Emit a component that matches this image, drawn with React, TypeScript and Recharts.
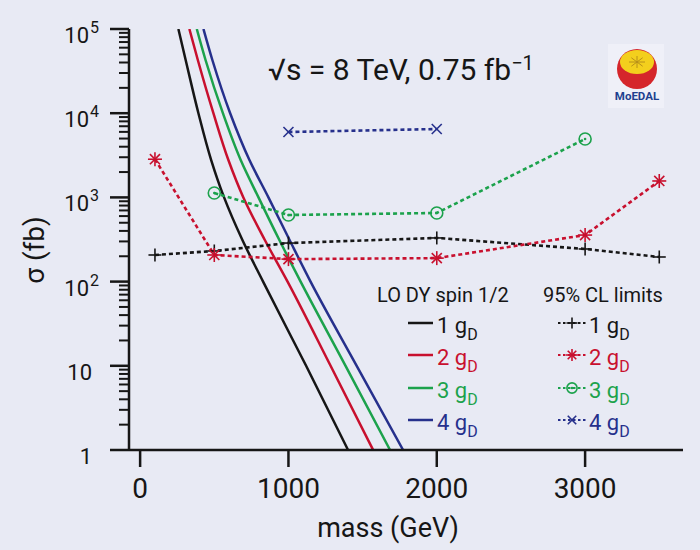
import React from "react";
import { LineChart, Line, XAxis, YAxis } from "recharts";

const INK = "#161616";
const BG = "#e8eaf4";
const RED = "#c8102e";
const GREEN = "#1ca24c";
const BLUE = "#26308c";
const FONT = "Roboto, 'Liberation Sans', sans-serif";

const couplings = ["1", "2", "3", "4"];
const seriesColors = [INK, RED, GREEN, BLUE];

// LO DY spin 1/2: sigma levels (fb) and the mass (GeV) where each curve crosses them
const dySigma = [100000, 42850, 10000, 2780, 1000, 316, 100, 10, 1];
const dyMass1 = [258, 307, 393, 479, 566, 688, 829, 1119, 1402];
const dyMass2 = [332, 389, 494, 595, 696, 839, 994, 1284, 1571];
const dyMass3 = [382, 441, 558, 678, 798, 937, 1082, 1385, 1685];
const dyMass4 = [427, 487, 607, 737, 865, 1006, 1149, 1460, 1773];

// 95% CL limits
const limMass1 = [100, 500, 1000, 2000, 3000, 3500];
const limSigma1 = [207, 231, 287, 330, 244, 196];
const limMass2 = [100, 500, 1000, 2000, 3000, 3500];
const limSigma2 = [2840, 207, 185, 190, 357, 1567];
const limMass3 = [500, 1000, 2000, 3000];
const limSigma3 = [1128, 618, 653, 4940];
const limMass4 = [1000, 2000];
const limSigma4 = [5980, 6490];

const massTicks = [0, 1000, 2000, 3000];
const sigmaMajorTicks = [1, 10, 100, 1000, 10000, 100000];
const sigmaTickBase = ["1", "10", "10", "10", "10", "10"];
const sigmaTickExp = ["", "", "2", "3", "4", "5"];

const X_DOMAIN = [-75, 3660];
const Y_DOMAIN = [1, 100000];

// log axis with 2..9 minor ticks per decade
const sigmaTicks: number[] = [];
for (let k = 0; k < 5; k++) for (let m = 1; m < 10; m++) sigmaTicks.push(m * 10 ** k);
sigmaTicks.push(100000);

const zip = (xs: number[], ys: number[]) => xs.map((m, i) => ({ mass: m, sigma: ys[i] }));
const dyCurves = [dyMass1, dyMass2, dyMass3, dyMass4].map((ms) => zip(ms, dySigma));
const limitCurves = [
  zip(limMass1, limSigma1),
  zip(limMass2, limSigma2),
  zip(limMass3, limSigma3),
  zip(limMass4, limSigma4),
];

function Marker({ kind, cx, cy, color, s = 1 }: any) {
  const w = 1.6;
  if (kind === 0) {
    const r = 6.5 * s;
    return (
      <g stroke={color} strokeWidth={w}>
        <line x1={cx - r} x2={cx + r} y1={cy} y2={cy} />
        <line x1={cx} x2={cx} y1={cy - r} y2={cy + r} />
      </g>
    );
  }
  if (kind === 1) {
    const r = 7 * s;
    const d = r * 0.72;
    return (
      <g stroke={color} strokeWidth={w}>
        <line x1={cx - r} x2={cx + r} y1={cy} y2={cy} />
        <line x1={cx} x2={cx} y1={cy - r} y2={cy + r} />
        <line x1={cx - d} x2={cx + d} y1={cy - d} y2={cy + d} />
        <line x1={cx - d} x2={cx + d} y1={cy + d} y2={cy - d} />
      </g>
    );
  }
  if (kind === 2) {
    return (
      <g>
        <circle cx={cx} cy={cy} r={6 * s} fill="none" stroke={color} strokeWidth={w} />
        <circle cx={cx} cy={cy} r={1.3} fill={color} />
      </g>
    );
  }
  const r = 5 * s;
  return (
    <g stroke={color} strokeWidth={w}>
      <line x1={cx - r} x2={cx + r} y1={cy - r} y2={cy + r} />
      <line x1={cx - r} x2={cx + r} y1={cy + r} y2={cy - r} />
    </g>
  );
}

function SigmaTick({ x, y, payload }: any) {
  const i = sigmaMajorTicks.indexOf(payload.value);
  if (i < 0) {
    return <line x1={x} x2={x - 10} y1={y} y2={y} stroke={INK} strokeWidth={2} />;
  }
  const exp = sigmaTickExp[i];
  return (
    <g>
      <line x1={x} x2={x - 19} y1={y} y2={y} stroke={INK} strokeWidth={2.5} />
      {exp ? (
        <>
          <text x={x - 40} y={y + 14} textAnchor="end" fontSize={22} fill={INK} fontFamily={FONT}>
            {sigmaTickBase[i]}
          </text>
          <text x={x - 39} y={y + 4} fontSize={16} fill={INK} fontFamily={FONT}>
            {exp}
          </text>
        </>
      ) : (
        <text x={x - 37} y={y + 14} textAnchor="end" fontSize={22} fill={INK} fontFamily={FONT}>
          {sigmaTickBase[i]}
        </text>
      )}
    </g>
  );
}

function MassTick({ x, y, payload }: any) {
  return (
    <g>
      <line x1={x} x2={x} y1={y} y2={y + 17} stroke={INK} strokeWidth={2.5} />
      <text x={x} y={y + 48} textAnchor="middle" fontSize={28} fill={INK} fontFamily={FONT}>
        {payload.value}
      </text>
    </g>
  );
}

function Overlay() {
  const rowY = [333, 365, 398, 430];
  return (
    <svg
      width={700}
      height={550}
      style={{ position: "absolute", left: 0, top: 0, pointerEvents: "none" }}
      fontFamily={FONT}
    >
      <text x={268} y={80} fontSize={30} fill={INK}>
        √s = 8 TeV, 0.75 fb
        <tspan dy={-10} fontSize={20}>−1</tspan>
      </text>

      <g>
        <rect x={608} y={44} width={56} height={64} fill="#eff0f8" />
        <circle cx={637} cy={69} r={20} fill="#d5262b" />
        <ellipse cx={637} cy={62} rx={17} ry={12} fill="#f3cf1d" />
        {[0, 45, 90, 135].map((a) => {
          const rad = (a * Math.PI) / 180;
          return (
            <line
              key={a}
              x1={637 - 8 * Math.cos(rad)}
              x2={637 + 8 * Math.cos(rad)}
              y1={62 - 6 * Math.sin(rad)}
              y2={62 + 6 * Math.sin(rad)}
              stroke="#b8901a"
              strokeWidth={1}
            />
          );
        })}
        <text x={637} y={100} textAnchor="middle" fontSize={11.5} fontWeight={700} fill="#20408f">
          MoEDAL
        </text>
      </g>

      <text x={377} y={302} fontSize={20} fill={INK}>LO DY spin 1/2</text>
      <text x={543} y={302} fontSize={20} fill={INK}>95% CL limits</text>
      {couplings.map((c, i) => (
        <g key={c} fill={seriesColors[i]}>
          <line x1={408} x2={433} y1={rowY[i] - 10} y2={rowY[i] - 10} stroke={seriesColors[i]} strokeWidth={2.5} />
          <text x={437} y={rowY[i]} fontSize={22}>
            {c} g<tspan dy={7} fontSize={16}>D</tspan>
          </text>
          <line
            x1={558}
            x2={586}
            y1={rowY[i] - 10}
            y2={rowY[i] - 10}
            stroke={seriesColors[i]}
            strokeWidth={2.2}
            strokeDasharray="2.5 2.5"
          />
          <Marker kind={i} cx={572} cy={rowY[i] - 10} color={seriesColors[i]} s={0.85} />
          <text x={589} y={rowY[i]} fontSize={22}>
            {c} g<tspan dy={7} fontSize={16}>D</tspan>
          </text>
        </g>
      ))}

      <text x={388} y={537} textAnchor="middle" fontSize={27} fill={INK}>mass (GeV)</text>
      <text
        x={0}
        y={0}
        transform="translate(44 250) rotate(-90)"
        textAnchor="middle"
        fontSize={28}
        fill={INK}
      >
        σ (fb)
      </text>
    </svg>
  );
}

export default function App() {
  const axisLine = { stroke: INK, strokeWidth: 2.5 };
  return (
    <div style={{ position: "absolute", left: 0, top: 0, width: 700, height: 550, background: BG }}>
      <LineChart width={700} height={550} margin={{ top: 29, right: 17, bottom: 40, left: 29 }}>
        <XAxis
          dataKey="mass"
          type="number"
          domain={X_DOMAIN}
          ticks={massTicks}
          interval={0}
          tick={<MassTick />}
          tickLine={false}
          tickSize={0}
          tickMargin={0}
          axisLine={axisLine}
          height={60}
          allowDataOverflow
        />
        <XAxis
          xAxisId="top"
          orientation="top"
          type="number"
          domain={X_DOMAIN}
          height={0}
          tick={false}
          tickLine={false}
          axisLine={axisLine}
        />
        <YAxis
          dataKey="sigma"
          type="number"
          scale="log"
          domain={Y_DOMAIN}
          ticks={sigmaTicks}
          interval={0}
          tick={<SigmaTick />}
          tickLine={false}
          tickSize={0}
          tickMargin={0}
          axisLine={axisLine}
          width={100}
          allowDataOverflow
        />
        <YAxis
          yAxisId="right"
          orientation="right"
          type="number"
          domain={Y_DOMAIN}
          width={0}
          tick={false}
          tickLine={false}
          axisLine={axisLine}
        />
        {dyCurves.map((d, i) => (
          <Line
            key={`dy${i}`}
            data={d}
            dataKey="sigma"
            type="monotoneY"
            stroke={seriesColors[i]}
            strokeWidth={2.5}
            dot={false}
            activeDot={false}
            isAnimationActive={false}
          />
        ))}
        {limitCurves.map((d, i) => (
          <Line
            key={`lim${i}`}
            data={d}
            dataKey="sigma"
            type="linear"
            stroke={seriesColors[i]}
            strokeWidth={2.6}
            strokeDasharray="4 3"
            dot={(p: any) => <Marker key={`m${i}-${p.index}`} kind={i} cx={p.cx} cy={p.cy} color={seriesColors[i]} />}
            activeDot={false}
            isAnimationActive={false}
          />
        ))}
      </LineChart>
      <Overlay />
    </div>
  );
}
